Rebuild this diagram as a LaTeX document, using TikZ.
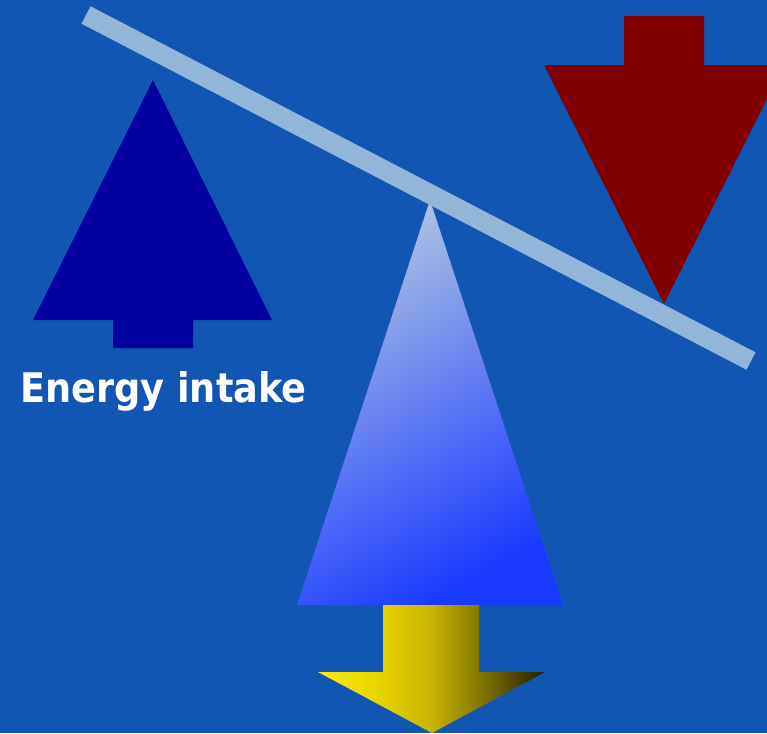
\documentclass[tikz,border=0pt]{standalone}
\usepackage{fontspec}
\newfontfamily\etiqueta{DejaVu Sans Condensed}
\definecolor{fondo}{RGB}{18,86,180}
\definecolor{barra}{RGB}{146,182,216}
\definecolor{azuloscuro}{RGB}{0,0,160}
\definecolor{granate}{RGB}{128,0,0}
\definecolor{azulclaro}{RGB}{172,194,228}
\definecolor{azulvivo}{RGB}{24,58,255}
\definecolor{amarillo}{RGB}{255,236,0}
\definecolor{amarillo2}{RGB}{230,210,0}
\definecolor{oro}{RGB}{200,180,0}
\definecolor{oliva}{RGB}{130,116,0}
\definecolor{oscuro}{RGB}{35,30,0}
\begin{document}
\begin{tikzpicture}[
        x=0.025cm, y=-0.025cm,
        flecha/.style={draw=none},
        balanza/.style={line width=0.49cm, color=barra},
        texto/.style={
            text=white,
            font=\etiqueta\bfseries\fontsize{29}{34}\selectfont,
            inner sep=0pt,
            anchor=base west
        }
    ]
        % fondo
        \fill[fondo] (0,0) rectangle (767,733);
        \useasboundingbox (0,0) rectangle (767,733);
        \clip (0,0) rectangle (767,733);

        % flecha de entrada (arriba, izquierda)
        \fill[flecha, azuloscuro] (153,80) -- (272,320) -- (193,320) -- (193,348)
            -- (113,348) -- (113,320) -- (33,320) -- cycle;

        % flecha de gasto (abajo, derecha)
        \fill[flecha, granate] (624,16) -- (704,16) -- (704,65) -- (784,65)
            -- (664,304) -- (544,65) -- (624,65) -- cycle;

        % fulcro
        \shade[flecha, shading=axis, top color=azulclaro, bottom color=azulvivo,
            shading angle=30] (430,200) -- (563,605) -- (297,605) -- cycle;

        % flecha amarilla (degradado horizontal)
        \pgfdeclarehorizontalshading{degradado}{100bp}{
            color(0bp)=(amarillo); color(25bp)=(amarillo);
            color(39bp)=(amarillo2); color(50bp)=(oro);
            color(61bp)=(oliva); color(75bp)=(oscuro); color(100bp)=(oscuro)}
        \shade[flecha, shading=degradado]
            (383,605) -- (479,605) -- (479,672) -- (545,672) -- (432,733)
            -- (318,672) -- (383,672) -- cycle;

        % barra
        \coordinate (izq) at (86,15);
        \coordinate (der) at (751,361);
        \draw[balanza] (izq) -- (der);

        \node[texto] (ingesta) at (20,402) {Energy intake};
    \end{tikzpicture}
\end{document}
